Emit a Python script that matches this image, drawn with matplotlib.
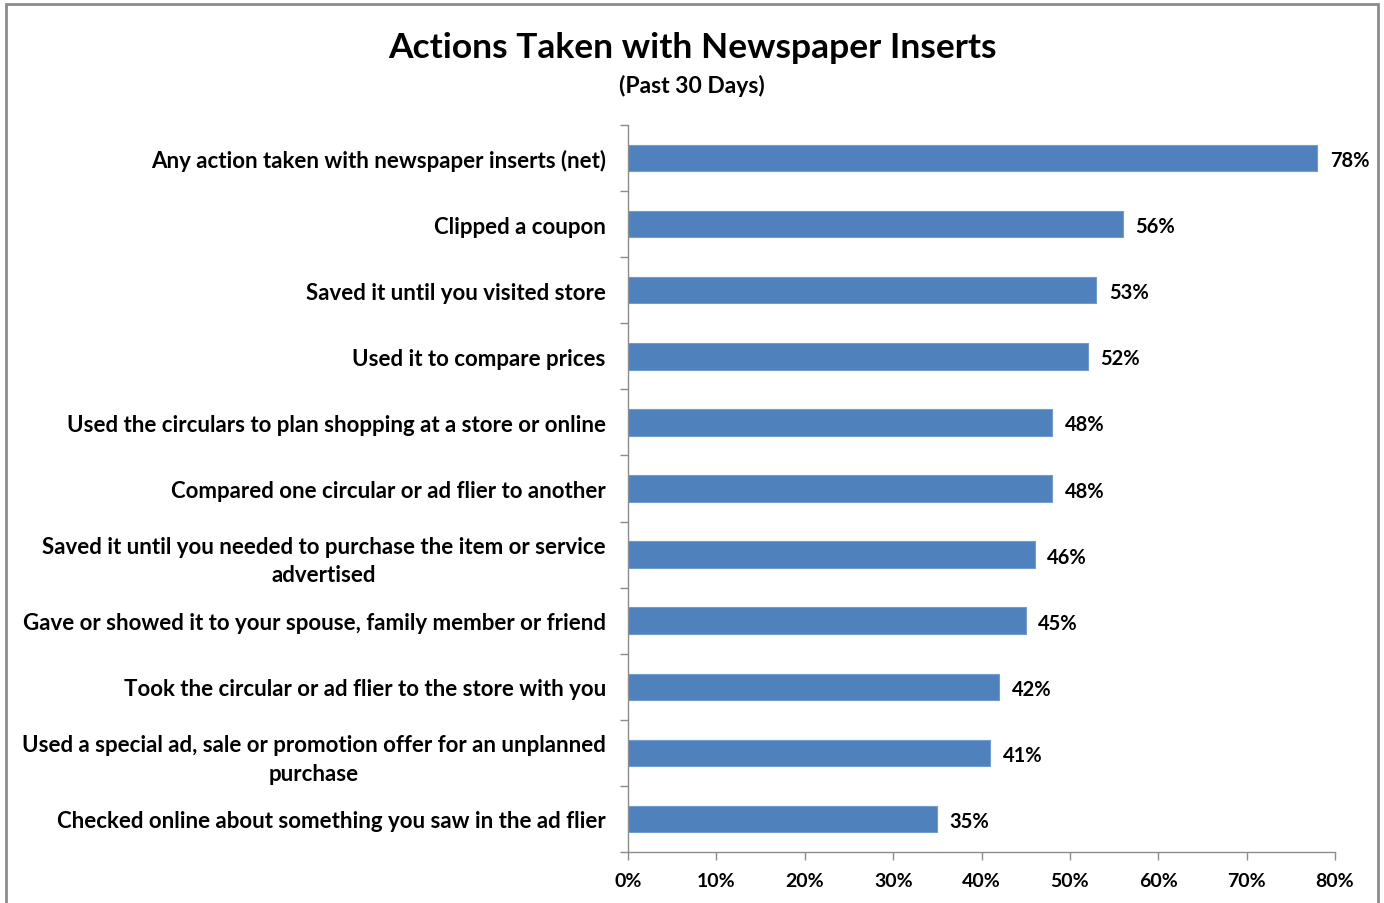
import matplotlib.pyplot as plt
from matplotlib.patches import Rectangle
from matplotlib.ticker import FuncFormatter, MultipleLocator

plt.rcParams['font.family'] = ['Lato', 'DejaVu Sans']

actions = [
    'Any action taken with newspaper inserts (net)',
    'Clipped a coupon',
    'Saved it until you visited store',
    'Used it to compare prices',
    'Used the circulars to plan shopping at a store or online',
    'Compared one circular or ad flier to another',
    'Saved it until you needed to purchase the item or service\nadvertised',
    'Gave or showed it to your spouse, family member or friend',
    'Took the circular or ad flier to the store with you',
    'Used a special ad, sale or promotion offer for an unplanned\npurchase',
    'Checked online about something you saw in the ad flier',
]
shares = [78, 56, 53, 52, 48, 48, 46, 45, 42, 41, 35]

fig = plt.figure(figsize=(13.84, 9.04), dpi=100)
fig.patches.append(Rectangle((0.0045, -0.01), 0.9915, 1.005, transform=fig.transFigure,
                             fill=False, edgecolor='#8c8c8c', linewidth=2))

ax = fig.add_axes([0.4538, 0.0564, 0.5108, 0.8042])
ypos = list(range(len(actions)))
ax.barh(ypos, shares, height=0.4, color='#4f81bd', edgecolor='#6f9bd0', linewidth=0.8)
ax.set_ylim(len(actions) - 0.5, -0.5)
ax.set_xlim(0, 80)

for y, v in zip(ypos, shares):
    ax.text(v + 1.4, y, f'{v}%', va='center_baseline', ha='left', fontsize=14.5, fontweight='bold')

ax.set_yticks(ypos)
ax.set_yticklabels(actions, fontsize=16, fontweight='bold', multialignment='center',
                   linespacing=1.45)
ax.tick_params(axis='y', length=0, pad=16)
ax.set_yticks([i - 0.5 for i in range(len(actions) + 1)], minor=True)
ax.tick_params(axis='y', which='minor', length=6, color='#8c8c8c', width=1)

ax.xaxis.set_major_locator(MultipleLocator(10))
ax.xaxis.set_major_formatter(FuncFormatter(lambda v, p: f'{v:.0f}%'))
ax.tick_params(axis='x', length=6, color='#8c8c8c', width=1, labelsize=14, pad=8.5)
for lab in ax.get_xticklabels():
    lab.set_fontweight('bold')

for side in ('top', 'right'):
    ax.spines[side].set_visible(False)
for side in ('left', 'bottom'):
    ax.spines[side].set_color('#8c8c8c')
    ax.spines[side].set_linewidth(1)

fig.text(0.5, 0.947, 'Actions Taken with Newspaper Inserts', ha='center', va='center',
         fontsize=25.5, fontweight='bold')
fig.text(0.5, 0.905, '(Past 30 Days)', ha='center', va='center', fontsize=16.5, fontweight='bold')

fig.savefig('out.png', dpi=100, facecolor='white')
